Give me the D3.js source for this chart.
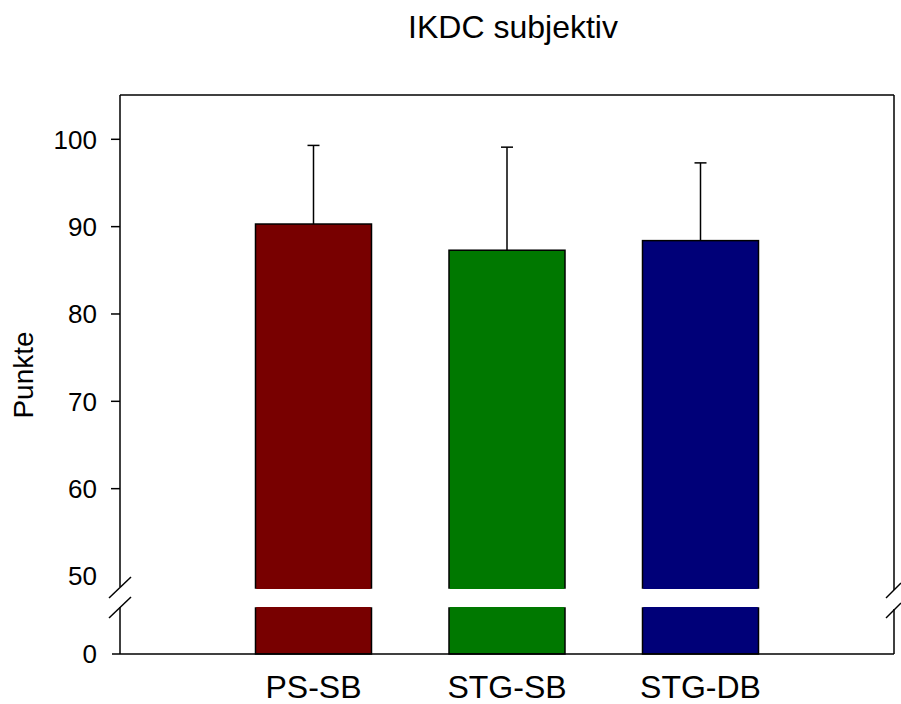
<!DOCTYPE html>
<html>
<head>
<meta charset="utf-8">
<script src="https://cdn.jsdelivr.net/npm/d3@7"></script>
<style>
  body { margin: 0; background: #fff; }
  svg { font-family: "Liberation Sans", Arial, sans-serif; }
</style>
</head>
<body>
<script>
const groups = ["PS-SB", "STG-SB", "STG-DB"];
const means = [90.3, 87.3, 88.4];
const sds = [9.0, 11.8, 8.9];
const colors = ["#780000", "#007800", "#000078"];
const upperTicks = [50, 60, 70, 80, 90, 100];
const lowerTicks = [0];

const width = 901, height = 704;
const plotLeft = 120, plotRight = 894, plotTop = 95, plotBottom = 654;
const upperBottom = 588, lowerTop = 608;

const svg = d3.select("body").append("svg")
  .attr("width", width).attr("height", height);

const x = d3.scaleLinear().domain([0, groups.length + 1]).range([plotLeft, plotRight]);
const yUp = d3.scaleLinear().domain([50, 100]).range([576, 139.3]);
const yLow = d3.scaleLinear().domain([0, 5]).range([plotBottom, lowerTop]);
const barW = 116;

// bars, upper and lower segment
const g = svg.append("g");
groups.forEach((name, i) => {
  const cx = x(i + 1);
  g.append("rect")
    .attr("x", cx - barW / 2).attr("width", barW)
    .attr("y", yUp(means[i])).attr("height", upperBottom - yUp(means[i]))
    .attr("fill", colors[i]).attr("stroke", "#000").attr("stroke-width", 1.5);
  g.append("rect")
    .attr("x", cx - barW / 2).attr("width", barW)
    .attr("y", lowerTop).attr("height", plotBottom - lowerTop)
    .attr("fill", colors[i]).attr("stroke", "#000").attr("stroke-width", 1.5);
  // hide the strokes at the break edges
  g.append("rect")
    .attr("x", cx - barW / 2 + 0.75).attr("width", barW - 1.5)
    .attr("y", upperBottom - 1).attr("height", 2).attr("fill", colors[i]);
  g.append("rect")
    .attr("x", cx - barW / 2 + 0.75).attr("width", barW - 1.5)
    .attr("y", lowerTop - 1).attr("height", 2).attr("fill", colors[i]);
  // error bar
  g.append("line")
    .attr("x1", cx).attr("x2", cx)
    .attr("y1", yUp(means[i])).attr("y2", yUp(means[i] + sds[i]))
    .attr("stroke", "#000").attr("stroke-width", 1.5);
  g.append("line")
    .attr("x1", cx - 6).attr("x2", cx + 6)
    .attr("y1", yUp(means[i] + sds[i])).attr("y2", yUp(means[i] + sds[i]))
    .attr("stroke", "#000").attr("stroke-width", 1.5);
});

const line = (x1, y1, x2, y2) => svg.append("line")
  .attr("x1", x1).attr("y1", y1).attr("x2", x2).attr("y2", y2)
  .attr("stroke", "#000").attr("stroke-width", 1.5);

// frame
line(plotLeft, plotTop, plotRight, plotTop);
line(plotLeft, plotTop, plotLeft, 587);
line(plotLeft, 607, plotLeft, plotBottom);
line(plotRight, plotTop, plotRight, 590);
line(plotRight, 609, plotRight, plotBottom);
line(112, plotBottom, plotRight, plotBottom);

// break marks
line(109, 598, 131, 577);
line(109, 618, 131, 597);
line(886, 598, 901, 583);
line(886, 618, 901, 603);

// y axis ticks and labels
upperTicks.forEach(t => {
  if (t > 50) line(111, yUp(t), plotLeft, yUp(t));
  svg.append("text").attr("x", 97).attr("y", yUp(t)).attr("dy", "0.36em")
    .attr("text-anchor", "end").attr("font-size", 26).text(t);
});
lowerTicks.forEach(t => {
  svg.append("text").attr("x", 97).attr("y", yLow(t)).attr("dy", "0.36em")
    .attr("text-anchor", "end").attr("font-size", 26).text(t);
});

// x labels
groups.forEach((name, i) => {
  svg.append("text").attr("x", x(i + 1)).attr("y", 698)
    .attr("text-anchor", "middle").attr("font-size", 32).text(name);
});

// titles
svg.append("text").attr("x", 513).attr("y", 38)
  .attr("text-anchor", "middle").attr("font-size", 32).text("IKDC subjektiv");
svg.append("text")
  .attr("transform", "translate(33,375) rotate(-90)")
  .attr("text-anchor", "middle").attr("font-size", 28).text("Punkte");
</script>
</body>
</html>
